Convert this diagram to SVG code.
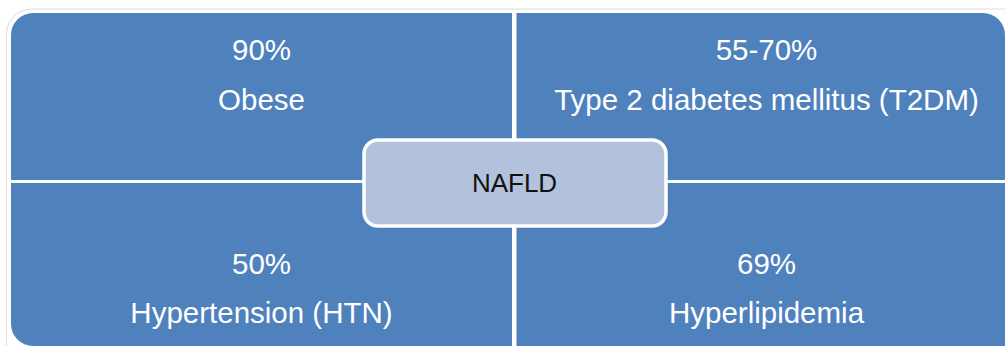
<svg xmlns="http://www.w3.org/2000/svg" width="1005" height="346" viewBox="0 0 1005 346">
<style>
.q{fill:#4F81BD}
.t{font-family:"Liberation Sans",Arial,sans-serif;font-size:29.5px;fill:#FFFFFF;text-anchor:middle}
.c{font-family:"Liberation Sans",Arial,sans-serif;font-size:26px;fill:#111111;text-anchor:middle}
</style>
<rect width="1005" height="346" fill="#FFFFFF"/>
<path d="M6.5,346 V34 A25,25 0 0 1 31.5,9 H1005" fill="none" stroke="#DCDCDC" stroke-width="1"/>
<g id="obese">
<path class="q" d="M11,180 V35 A22,22 0 0 1 33,13 H512 V180 Z"/>
<text class="t" x="261.5" y="60">90%</text>
<text class="t" x="261.5" y="110">Obese</text>
</g>
<g id="t2dm">
<path class="q" d="M516.5,180 V13 H983 A22,22 0 0 1 1005,35 V180 Z"/>
<text class="t" x="766.5" y="60">55-70%</text>
<text class="t" x="766.5" y="110">Type 2 diabetes mellitus (T2DM)</text>
</g>
<g id="htn">
<path class="q" d="M11,183 H512 V346 H33 A22,22 0 0 1 11,324 Z"/>
<text class="t" x="261.5" y="274">50%</text>
<text class="t" x="261.5" y="323">Hypertension (HTN)</text>
</g>
<g id="hyperlipidemia">
<path class="q" d="M516.5,183 H1005 V346 H516.5 Z"/>
<text class="t" x="766.5" y="274">69%</text>
<text class="t" x="766.5" y="323">Hyperlipidemia</text>
</g>
<g id="connectors"></g>
<g id="nafld">
<rect x="364" y="140" width="302" height="86" rx="14" ry="14" fill="#B2C2DD" stroke="#FFFFFF" stroke-width="3.5"/>
<text class="c" x="514.5" y="192">NAFLD</text>
</g>
</svg>
